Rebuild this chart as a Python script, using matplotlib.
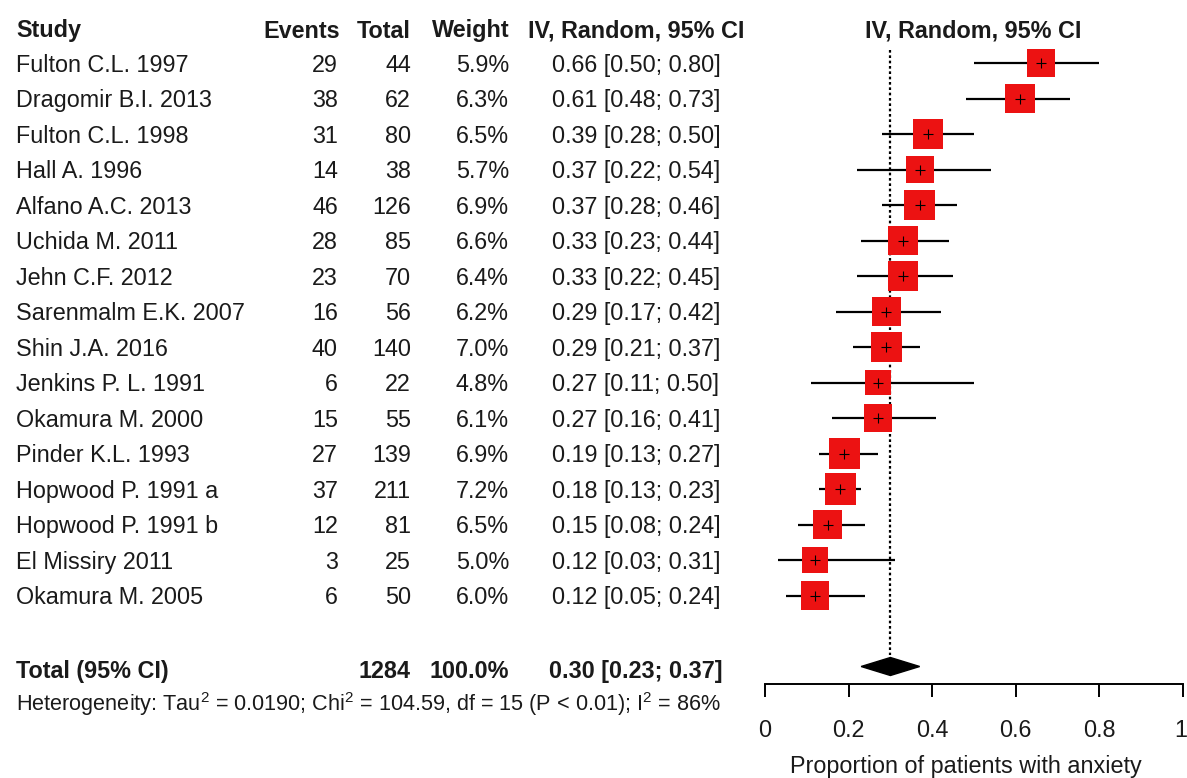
import matplotlib
matplotlib.use("Agg")
import matplotlib.pyplot as plt
from matplotlib.patches import Polygon
from matplotlib.transforms import ScaledTranslation
import numpy as np

plt.rcParams['font.family'] = ['Liberation Sans', 'DejaVu Sans']
plt.rcParams['mathtext.fontset'] = 'custom'
plt.rcParams['mathtext.rm'] = 'Liberation Sans'

# data
studies = ["Fulton C.L. 1997", "Dragomir B.I. 2013", "Fulton C.L. 1998", "Hall A. 1996",
           "Alfano A.C. 2013", "Uchida M. 2011", "Jehn C.F. 2012", "Sarenmalm E.K. 2007",
           "Shin J.A. 2016", "Jenkins P. L. 1991", "Okamura M. 2000", "Pinder K.L. 1993",
           "Hopwood P. 1991 a", "Hopwood P. 1991 b", "El Missiry 2011", "Okamura M. 2005"]
events = [29, 38, 31, 14, 46, 28, 23, 16, 40, 6, 15, 27, 37, 12, 3, 6]
totals = [44, 62, 80, 38, 126, 85, 70, 56, 140, 22, 55, 139, 211, 81, 25, 50]
weights = [5.9, 6.3, 6.5, 5.7, 6.9, 6.6, 6.4, 6.2, 7.0, 4.8, 6.1, 6.9, 7.2, 6.5, 5.0, 6.0]
est = [0.66, 0.61, 0.39, 0.37, 0.37, 0.33, 0.33, 0.29, 0.29, 0.27, 0.27, 0.19, 0.18, 0.15, 0.12, 0.12]
lower = [0.50, 0.48, 0.28, 0.22, 0.28, 0.23, 0.22, 0.17, 0.21, 0.11, 0.16, 0.13, 0.13, 0.08, 0.03, 0.05]
upper = [0.80, 0.73, 0.50, 0.54, 0.46, 0.44, 0.45, 0.42, 0.37, 0.50, 0.41, 0.27, 0.23, 0.24, 0.31, 0.24]

total_n = 1284
pooled = 0.30
pooled_lo = 0.23
pooled_hi = 0.37
het_text = ("Heterogeneity: Tau$^2$ = 0.0190; Chi$^2$ = 104.59, df = 15 (P < 0.01); "
            "I$^2$ = 86%")

W, H = 1187, 778
row0, dy = 63, 35.5


def r_of(p):
    # pixel row -> row units
    return (p - row0) / dy


fig = plt.figure(figsize=(W / 100, H / 100), dpi=100)

# text columns
ax_t = fig.add_axes([0, 0, 1, 1])
ax_t.set_xlim(0, W)
ax_t.set_ylim(r_of(H), r_of(0))
ax_t.axis('off')

fs = 16.8
tc = '#1a1a1a'
rows = np.arange(len(studies))
off = 0.07

hy = r_of(31)
ax_t.text(16, hy, "Study", ha='left', va='center', fontsize=fs, fontweight='bold', color=tc)
ax_t.text(340, hy, "Events", ha='right', va='center', fontsize=fs, fontweight='bold', color=tc)
ax_t.text(411, hy, "Total", ha='right', va='center', fontsize=fs, fontweight='bold', color=tc)
ax_t.text(510, hy, "Weight", ha='right', va='center', fontsize=fs, fontweight='bold', color=tc)
ax_t.text(636, hy, "IV, Random, 95% CI", ha='center', va='center', fontsize=fs,
          fontweight='bold', color=tc)
ax_t.text(973, hy, "IV, Random, 95% CI", ha='center', va='center', fontsize=fs,
          fontweight='bold', color=tc)

for i in rows:
    y = i + off
    ax_t.text(16, y, studies[i], ha='left', va='center', fontsize=fs, color=tc)
    ax_t.text(338, y, str(events[i]), ha='right', va='center', fontsize=fs, color=tc)
    ax_t.text(411, y, str(totals[i]), ha='right', va='center', fontsize=fs, color=tc)
    ax_t.text(509, y, "%.1f%%" % weights[i], ha='right', va='center', fontsize=fs, color=tc)
    ax_t.text(636, y, "%.2f [%.2f; %.2f]" % (est[i], lower[i], upper[i]),
              ha='center', va='center', fontsize=fs, color=tc)

ty = 17 + 0.15
ax_t.text(16, ty, "Total (95% CI)", ha='left', va='center', fontsize=fs, fontweight='bold', color=tc)
ax_t.text(411, ty, str(total_n), ha='right', va='center', fontsize=fs, fontweight='bold', color=tc)
ax_t.text(509, ty, "%.1f%%" % sum(weights), ha='right', va='center', fontsize=fs,
          fontweight='bold', color=tc)
ax_t.text(636, ty, "%.2f [%.2f; %.2f]" % (pooled, pooled_lo, pooled_hi),
          ha='center', va='center', fontsize=fs, fontweight='bold', color=tc)
ax_t.text(16, r_of(704), het_text, ha='left', va='center', fontsize=15.6, color=tc)

# forest panel
ax = fig.add_axes([765 / W, (H - 684) / H, 418 / W, 684 / H])
ax.set_xlim(0, 1)
ax.set_ylim(r_of(684), r_of(0))
ax.patch.set_alpha(0)
for s in ['top', 'right', 'left']:
    ax.spines[s].set_visible(False)
ax.spines['bottom'].set_linewidth(1.4)
ax.set_yticks([])
ticks = [0, 0.2, 0.4, 0.6, 0.8, 1]
ax.set_xticks(ticks)
ax.set_xticklabels(['0', '0.2', '0.4', '0.6', '0.8', '1'], fontsize=fs, color=tc)
ax.tick_params(axis='x', length=9, width=1.4, pad=16)
last = ax.get_xticklabels()[-1]
last.set_horizontalalignment('right')
last.set_transform(last.get_transform() + ScaledTranslation(3 / 72, 0, fig.dpi_scale_trans))

ax.vlines(pooled, r_of(50), r_of(655), colors='black', linestyles=(0, (1.2, 1.2)), lw=1.6)
ax.hlines(rows, lower, upper, colors='black', lw=1.6, zorder=2)
side = 11.6 * np.sqrt(weights) * 0.72
ax.scatter(est, rows, marker='s', s=side ** 2, color='#ec1212', linewidths=0, zorder=3)
ax.scatter(est, rows, marker='+', s=45, color='black', linewidths=0.8, zorder=4)

h = 9 / dy
ax.add_patch(Polygon([(pooled_lo, 17), (pooled, 17 - h), (pooled_hi, 17), (pooled, 17 + h)],
                     closed=True, facecolor='black', edgecolor='black', zorder=3))

fig.text(966 / W, 1 - 767 / H, "Proportion of patients with anxiety", ha='center', va='center',
         fontsize=fs, color=tc)

fig.savefig("out.png", dpi=100)
